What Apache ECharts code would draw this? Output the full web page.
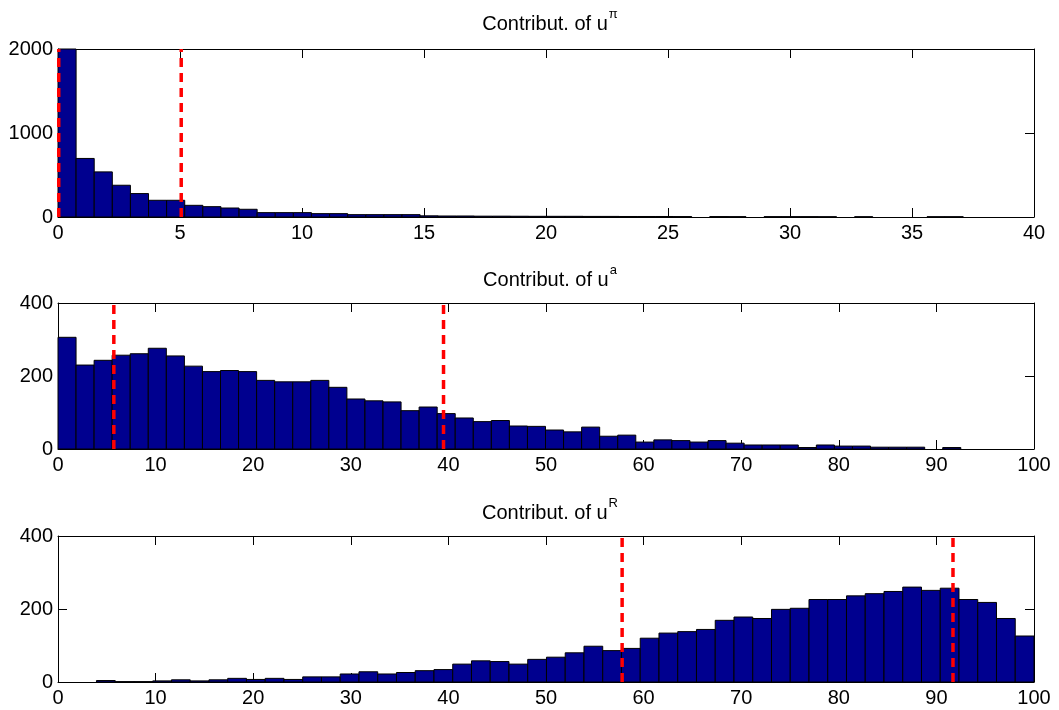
<!DOCTYPE html>
<html>
<head>
<meta charset="utf-8">
<script src="https://cdn.jsdelivr.net/npm/echarts@6/dist/echarts.min.js"></script>
<style>
html,body{margin:0;padding:0;background:#fff;}
#chart{width:1059px;height:710px;}
</style>
</head>
<body>
<div id="chart"></div>
<script>
// ---- Data ----
// Panel 1: contribution of u^pi, 50 bins starting at 0 with width 0.742
const binStart1 = 0;
const binWidth1 = 0.742;
const counts1 = [2000, 697, 537, 378, 279, 199, 199, 139, 123, 107,
                 92, 52, 52, 52, 40, 40, 28, 28, 28, 28,
                 14, 12, 12, 10, 10, 9, 8, 8, 8, 7,
                 7, 6, 6, 6, 5, 0, 5, 4, 0, 4,
                 4, 4, 3, 0, 3, 0, 0, 0, 3, 3];
const bounds1 = [0.03, 5.05];

// Panel 2: contribution of u^a, 50 bins starting at 0 with width 1.85
const binStart2 = 0;
const binWidth2 = 1.85;
const counts2 = [306, 230, 243, 257, 261, 276, 255, 227, 212, 215,
                 212, 188, 184, 184, 188, 169, 137, 132, 129, 105,
                 115, 97, 85, 75, 78, 63, 62, 52, 47, 60,
                 35, 38, 19, 25, 23, 19, 23, 16, 11, 11,
                 11, 4, 11, 8, 8, 5, 5, 5, 0, 4];
const bounds2 = [5.72, 39.5];

// Panel 3: contribution of u^R, 50 bins starting at 3.94 with width 1.921
const binStart3 = 3.94;
const binWidth3 = 1.9212;
const counts3 = [4, 1, 1, 3, 6, 3, 6, 10, 7, 10,
                 7, 14, 14, 22, 28, 22, 26, 31, 34, 49,
                 58, 56, 49, 62, 68, 80, 98, 86, 92, 120,
                 134, 138, 144, 169, 178, 174, 199, 202, 226, 226,
                 236, 242, 248, 260, 251, 257, 226, 218, 174, 126];
const bounds3 = [57.8, 91.7];

const titles = [
  {main: 'Contribut. of u', sup: 'π'},
  {main: 'Contribut. of u', sup: 'a'},
  {main: 'Contribut. of u', sup: 'R'}
];
const xMax = [40, 100, 100];
const xInterval = [5, 10, 10];
const yMax = [2000, 400, 400];
const yInterval = [1000, 200, 200];

// ---- Layout / style ----
const FONT = '"Liberation Sans", Arial, Helvetica, sans-serif';
const BAR_COLOR = '#00008F';
const grids = [
  {left: 58, right: 25, top: 49, height: 168},
  {left: 58, right: 25, top: 303, height: 146},
  {left: 58, right: 25, top: 536, height: 146}
];
const titleTops = [3, 259, 492];

const panels = [
  {start: binStart1, width: binWidth1, counts: counts1, bounds: bounds1},
  {start: binStart2, width: binWidth2, counts: counts2, bounds: bounds2},
  {start: binStart3, width: binWidth3, counts: counts3, bounds: bounds3}
];

const xAxes = [], yAxes = [], series = [], titleComps = [];
panels.forEach((p, i) => {
  const tickStyle = {show: true, inside: true, length: 9, lineStyle: {color: '#000', width: 1}};
  const lineStyle = {show: true, onZero: false, lineStyle: {color: '#000', width: 1}};
  const plain = v => String(v);
  xAxes.push({
    type: 'value', gridIndex: i, min: 0, max: xMax[i], interval: xInterval[i],
    position: 'bottom',
    axisLine: lineStyle, axisTick: tickStyle, splitLine: {show: false},
    axisLabel: {color: '#000', fontFamily: FONT, fontSize: 20, margin: 6, formatter: plain}
  });
  xAxes.push({
    type: 'value', gridIndex: i, min: 0, max: xMax[i], interval: xInterval[i],
    position: 'top',
    axisLine: lineStyle, axisTick: tickStyle, splitLine: {show: false},
    axisLabel: {show: false}
  });
  yAxes.push({
    type: 'value', gridIndex: i, min: 0, max: yMax[i], interval: yInterval[i],
    position: 'left',
    axisLine: lineStyle, axisTick: tickStyle, splitLine: {show: false},
    axisLabel: {color: '#000', fontFamily: FONT, fontSize: 20, margin: 5, formatter: plain}
  });
  yAxes.push({
    type: 'value', gridIndex: i, min: 0, max: yMax[i], interval: yInterval[i],
    position: 'right',
    axisLine: lineStyle, axisTick: tickStyle, splitLine: {show: false},
    axisLabel: {show: false}
  });

  const data = p.counts.map((c, k) => [p.start + k * p.width, p.start + (k + 1) * p.width, c]);
  series.push({
    type: 'custom',
    xAxisIndex: i * 2, yAxisIndex: i * 2,
    silent: true,
    data: data,
    renderItem: function (params, api) {
      const x0 = api.value(0), x1 = api.value(1), v = api.value(2);
      if (v <= 0) return null;
      const p0 = api.coord([x0, v]);
      const p1 = api.coord([x1, 0]);
      return {
        type: 'rect',
        shape: {x: p0[0], y: p0[1], width: p1[0] - p0[0], height: p1[1] - p0[1]},
        style: {fill: BAR_COLOR, stroke: '#000', lineWidth: 1}
      };
    },
    z: 2
  });
  p.bounds.forEach(b => {
    series.push({
      type: 'line',
      xAxisIndex: i * 2, yAxisIndex: i * 2,
      data: [[b, 0], [b, yMax[i]]],
      symbol: 'none', silent: true,
      lineStyle: {color: '#FF0000', width: 3.5, type: [9, 6]},
      z: 5
    });
  });

  titleComps.push({
    text: '{m|' + titles[i].main + '}{s|' + titles[i].sup + '}',
    left: 545, top: titleTops[i], textAlign: 'center',
    textStyle: {
      fontWeight: 'normal',
      rich: {
        m: {fontFamily: FONT, fontSize: 20, fontWeight: 'normal', color: '#000', lineHeight: 26, verticalAlign: 'bottom'},
        s: {fontFamily: FONT, fontSize: 13, fontWeight: 'normal', color: '#000', lineHeight: 26, verticalAlign: 'top', padding: [0, 0, 0, 1]}
      }
    }
  });
});

const chart = echarts.init(document.getElementById('chart'), null, {renderer: 'canvas'});
chart.setOption({
  animation: false,
  backgroundColor: '#fff',
  title: titleComps,
  grid: grids,
  xAxis: xAxes,
  yAxis: yAxes,
  series: series
});
</script>
</body>
</html>
